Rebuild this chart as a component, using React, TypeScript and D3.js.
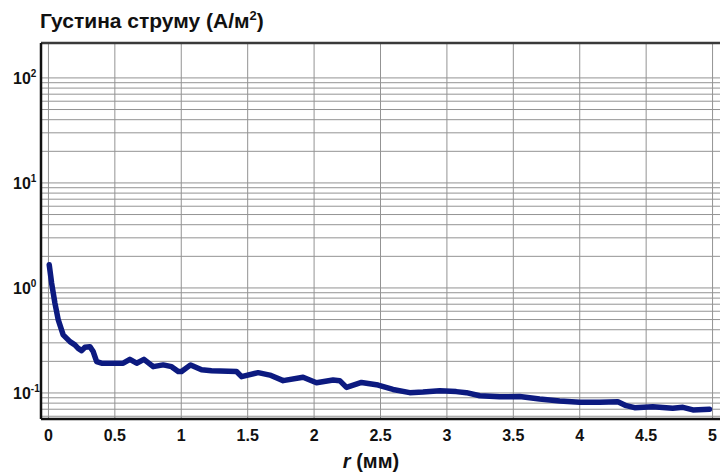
import React from "react";
import * as d3 from "d3";

// Radial distance r (mm) and current density J (A/m²) along the profile
const radius: number[] = [
  0.006, 0.024, 0.049, 0.074, 0.111, 0.162, 0.199, 0.224, 0.25, 0.275, 0.312,
  0.337, 0.363, 0.4, 0.563, 0.613, 0.664, 0.719, 0.789, 0.864, 0.927, 0.977,
  1.002, 1.07, 1.153, 1.228, 1.416, 1.454, 1.579, 1.667, 1.767, 1.917, 2.018,
  2.143, 2.193, 2.244, 2.357, 2.482, 2.594, 2.72, 2.82, 2.946, 3.07, 3.147,
  3.247, 3.397, 3.548, 3.698, 3.849, 4.0, 4.15, 4.287, 4.35, 4.413, 4.55,
  4.7, 4.777, 4.852, 4.977,
];
const density: number[] = [
  1.66, 1.11, 0.715, 0.496, 0.357, 0.308, 0.287, 0.266, 0.253, 0.272, 0.276,
  0.248, 0.199, 0.192, 0.192, 0.209, 0.192, 0.209, 0.178, 0.185, 0.178, 0.16,
  0.16, 0.185, 0.166, 0.163, 0.16, 0.143, 0.156, 0.148, 0.131, 0.141, 0.125,
  0.133, 0.131, 0.113, 0.126, 0.119, 0.108, 0.1007, 0.102, 0.105, 0.103,
  0.1007, 0.094, 0.092, 0.0925, 0.0877, 0.084, 0.0815, 0.0815, 0.0826,
  0.0757, 0.0724, 0.074, 0.0714, 0.073, 0.0689, 0.07,
];

const xTicks: number[] = [0, 0.5, 1, 1.5, 2, 2.5, 3, 3.5, 4, 4.5, 5];
const xTickLabels: string[] = ["0", "0.5", "1", "1.5", "2", "2.5", "3", "3.5", "4", "4.5", "5"];
const yDecades: number[] = [-1, 0, 1, 2];

const titleText = "Густина струму (А/м";
const xLabelVar = "r";
const xLabelUnit = " (мм)";

const W = 721;
const H = 473;
const plot = { left: 41, right: 720, top: 43, bottom: 419 };
const FONT = "'Liberation Sans', Arial, sans-serif";

export default function App() {
  const x = d3.scaleLinear().domain([-0.056, 5.056]).range([plot.left, plot.right]);
  const y = d3.scaleLog().domain([0.0565, 215]).range([plot.bottom, plot.top]);

  const gridY: number[] = [];
  for (let d = -2; d <= 2; d++) {
    for (let k = 1; k <= 9; k++) {
      const v = k * Math.pow(10, d);
      if (v >= 0.0565 && v <= 100.001) gridY.push(v);
    }
  }

  const points: [number, number][] = radius.map((r, i) => [r, density[i]]);
  const line = d3
    .line<[number, number]>()
    .x((d) => x(d[0]))
    .y((d) => y(d[1]));

  return (
    <svg
      width={W}
      height={H}
      style={{ position: "absolute", left: 0, top: 0, background: "#fff" }}
      fontFamily={FONT}
    >
      <rect x={0} y={0} width={W} height={H} fill="#fff" />
      {/* horizontal log grid */}
      {gridY.map((v, i) => (
        <line
          key={"gy" + i}
          x1={plot.left}
          x2={plot.right}
          y1={y(v)}
          y2={y(v)}
          stroke="#939393"
          strokeWidth={1}
        />
      ))}
      {/* vertical grid */}
      {xTicks.map((t, i) => (
        <line
          key={"gx" + i}
          x1={x(t)}
          x2={x(t)}
          y1={plot.top}
          y2={plot.bottom}
          stroke="#939393"
          strokeWidth={1}
        />
      ))}
      {/* frame */}
      <line x1={plot.left} x2={plot.right} y1={plot.top} y2={plot.top} stroke="#3a3a3a" strokeWidth={2.5} />
      <line x1={plot.left} x2={plot.left} y1={plot.top} y2={plot.bottom} stroke="#111" strokeWidth={2.5} />
      <line x1={plot.left} x2={plot.right} y1={plot.bottom} y2={plot.bottom} stroke="#111" strokeWidth={2.5} />

      {/* data curve */}
      <path
        d={line(points) || ""}
        fill="none"
        stroke="#0c1a80"
        strokeWidth={5.5}
        strokeLinejoin="round"
        strokeLinecap="round"
      />

      {/* y tick labels */}
      {yDecades.map((d) => (
        <text key={"yl" + d} x={13} y={y(Math.pow(10, d)) + 6} fontSize={16} fontWeight="bold" fill="#111">
          10
          <tspan fontSize={10} dy={-7}>
            {d}
          </tspan>
        </text>
      ))}

      {/* x tick labels */}
      {xTicks.map((t, i) => (
        <text
          key={"xl" + i}
          x={x(t)}
          y={441}
          textAnchor="middle"
          fontSize={16}
          fontWeight="bold"
          fill="#111"
        >
          {xTickLabels[i]}
        </text>
      ))}

      {/* title */}
      <text x={40} y={28} fontSize={21} fontWeight="bold" fill="#111">
        {titleText}
        <tspan fontSize={13} dy={-8}>2</tspan>
        <tspan dy={8}>)</tspan>
      </text>

      {/* x axis label */}
      <text x={371} y={468} textAnchor="middle" fontSize={20} fontWeight="bold" fill="#111">
        <tspan fontStyle="italic">{xLabelVar}</tspan>
        <tspan>{xLabelUnit}</tspan>
      </text>
    </svg>
  );
}
